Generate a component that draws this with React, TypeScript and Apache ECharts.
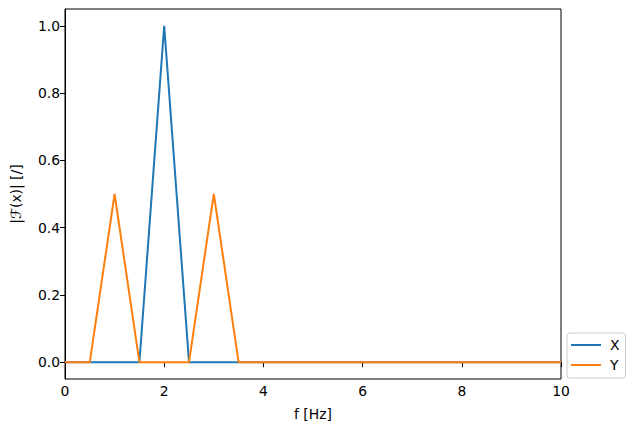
import React, { useEffect, useRef } from "react";
import * as echarts from "echarts";

const freq = [0, 0.5, 1, 1.5, 2, 2.5, 3, 3.5, 4, 4.5, 5, 5.5, 6, 6.5, 7, 7.5, 8, 8.5, 9, 9.5, 10];
const xMag = [0, 0, 0, 0, 1, 0, 0, 0, 0, 0, 0, 0, 0, 0, 0, 0, 0, 0, 0, 0, 0];
const yMag = [0, 0, 0.5, 0, 0, 0, 0.5, 0, 0, 0, 0, 0, 0, 0, 0, 0, 0, 0, 0, 0, 0];
const yTicks = [0, 0.2, 0.4, 0.6, 0.8, 1.0];
const seriesNames = ["X", "Y"];
const colors = ["#1f77b4", "#ff7f0e"];

const FONT = "DejaVu Sans";

export default function App() {
  const ref = useRef<HTMLDivElement>(null);
  useEffect(() => {
    if (!ref.current) return;
    const chart = echarts.init(ref.current, null, { renderer: "svg" });
    const pairs = (ys: number[]) => freq.map((f, i) => [f, ys[i]]);
    chart.setOption({
      animation: false,
      textStyle: { fontFamily: FONT, color: "#000" },
      grid: {
        left: 65,
        right: 74,
        top: 9,
        bottom: 53,
        show: true,
        borderColor: "#000",
        borderWidth: 1,
        backgroundColor: "transparent",
      },
      xAxis: {
        type: "value",
        min: 0,
        max: 10,
        interval: 2,
        name: "f [Hz]",
        nameLocation: "middle",
        nameGap: 28,
        nameTextStyle: { fontSize: 13.9, fontFamily: FONT, color: "#000" },
        axisLine: { show: true, lineStyle: { color: "#000", width: 1 } },
        axisTick: { show: true, inside: false, length: 5, lineStyle: { color: "#000" } },
        axisLabel: { fontSize: 13.9, fontFamily: FONT, color: "#000", margin: 5 },
        splitLine: { show: false },
      },
      yAxis: {
        type: "value",
        min: -0.05,
        max: 1.05,
        name: "|ℱ(x)| [/]",
        nameLocation: "middle",
        nameRotate: 90,
        nameGap: 42,
        nameTextStyle: { fontSize: 13.9, fontFamily: FONT, color: "#000" },
        axisLine: { show: true, lineStyle: { color: "#000", width: 1 } },
        axisTick: {
          show: true,
          inside: false,
          length: 5,
          lineStyle: { color: "#000" },
          customValues: yTicks,
        },
        axisLabel: {
          fontSize: 13.9,
          fontFamily: FONT,
          color: "#000",
          margin: 5,
          customValues: yTicks,
          formatter: (v: number) => v.toFixed(1),
        },
        splitLine: { show: false },
      },
      legend: {
        orient: "vertical",
        left: 567,
        top: 333,
        data: seriesNames,
        icon: "path://M0,0L30,0L30,2L0,2Z",
        itemWidth: 30,
        itemHeight: 2,
        itemGap: 6,
        padding: [5, 6, 6, 4],
        backgroundColor: "rgba(255,255,255,0.8)",
        borderColor: "#cccccc",
        borderWidth: 1,
        borderRadius: 3,
        textStyle: { fontSize: 13.9, fontFamily: FONT, color: "#000", padding: [0, 0, 0, 4] },
      },
      series: [
        {
          name: seriesNames[0],
          type: "line",
          data: pairs(xMag),
          symbol: "none",
          lineStyle: { color: colors[0], width: 2 },
          itemStyle: { color: colors[0] },
        },
        {
          name: seriesNames[1],
          type: "line",
          data: pairs(yMag),
          symbol: "none",
          lineStyle: { color: colors[1], width: 2 },
          itemStyle: { color: colors[1] },
        },
      ],
    });
    return () => chart.dispose();
  }, []);
  return <div ref={ref} style={{ width: 635, height: 432, position: "absolute", left: 0, top: 0 }} />;
}
